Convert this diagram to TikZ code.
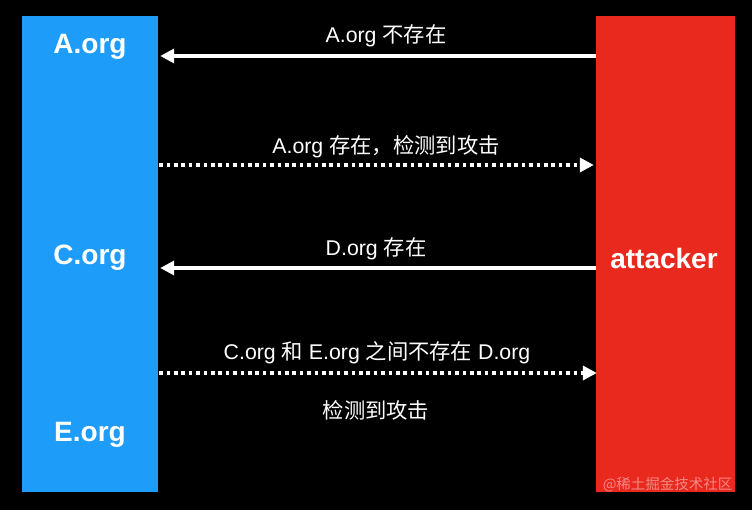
\documentclass[tikz,border=0pt]{standalone}
\usepackage{fontspec}
\setmainfont{Liberation Sans}
\newfontfamily\cjk{Noto Sans CJK SC}
\usetikzlibrary{arrows.meta}
\definecolor{boxblue}{RGB}{30,156,250}
\definecolor{boxred}{RGB}{233,40,30}
\begin{document}
\begin{tikzpicture}[x=1pt,y=-1pt,
  panel/.style={draw=none,inner sep=0pt,minimum width=#1},
  title/.style={text=white,font=\fontsize{28}{32}\selectfont\bfseries},
  lab/.style={text=white,font=\fontsize{21.3}{25}\selectfont},
  solidarrow/.style={white,line width=3.6pt,-{Triangle[length=14pt,width=14pt]}},
  dotarrow/.style={white,line width=3.6pt,dash pattern=on 3.6pt off 3.8pt,-{Triangle[length=14pt,width=14pt]}},
]
\useasboundingbox (0,0) rectangle (752,510);
\fill[black] (0,0) rectangle (752,510);
\node[panel=136pt,fill=boxblue,minimum height=476pt] (blue) at (90,254) {};
\node[panel=139pt,fill=boxred,minimum height=476pt] (red) at (665.5,254) {};
\node[title] (aorg) at (90,47) {A.org};
\node[title] (corg) at (90,258) {C.org};
\node[title] (eorg) at (90,435) {E.org};
\node[title] (att) at (664,258) {attacker};
\coordinate (y1) at (0,56);
\coordinate (y2) at (0,165);
\coordinate (y3) at (0,268);
\coordinate (y4) at (0,373);
\draw[solidarrow] (red.west |- y1) -- ([xshift=2pt]blue.east |- y1);
\draw[dotarrow] ([xshift=1pt]blue.east |- y2) -- ([xshift=-2pt]red.west |- y2);
\draw[solidarrow] (red.west |- y3) -- ([xshift=2pt]blue.east |- y3);
\draw[dotarrow] ([xshift=1pt]blue.east |- y4) -- ([xshift=1pt]red.west |- y4);
\node[lab] (l1) at (386,36) {A.org {\cjk 不存在}};
\node[lab] (l2) at (386,147) {A.org {\cjk 存在，检测到攻击}};
\node[lab] (l3) at (376,249) {D.org {\cjk 存在}};
\node[lab] (l4) at (377,353) {C.org {\cjk 和} E.org {\cjk 之间不存在} D.org};
\node[lab] (l5) at (376,410) {\cjk 检测到攻击};
\node[text=white,opacity=0.45,font=\cjk\fontsize{14.5}{16}\selectfont,anchor=east] (wm) at (736,485) {@稀土掘金技术社区};
\end{tikzpicture}
\end{document}
